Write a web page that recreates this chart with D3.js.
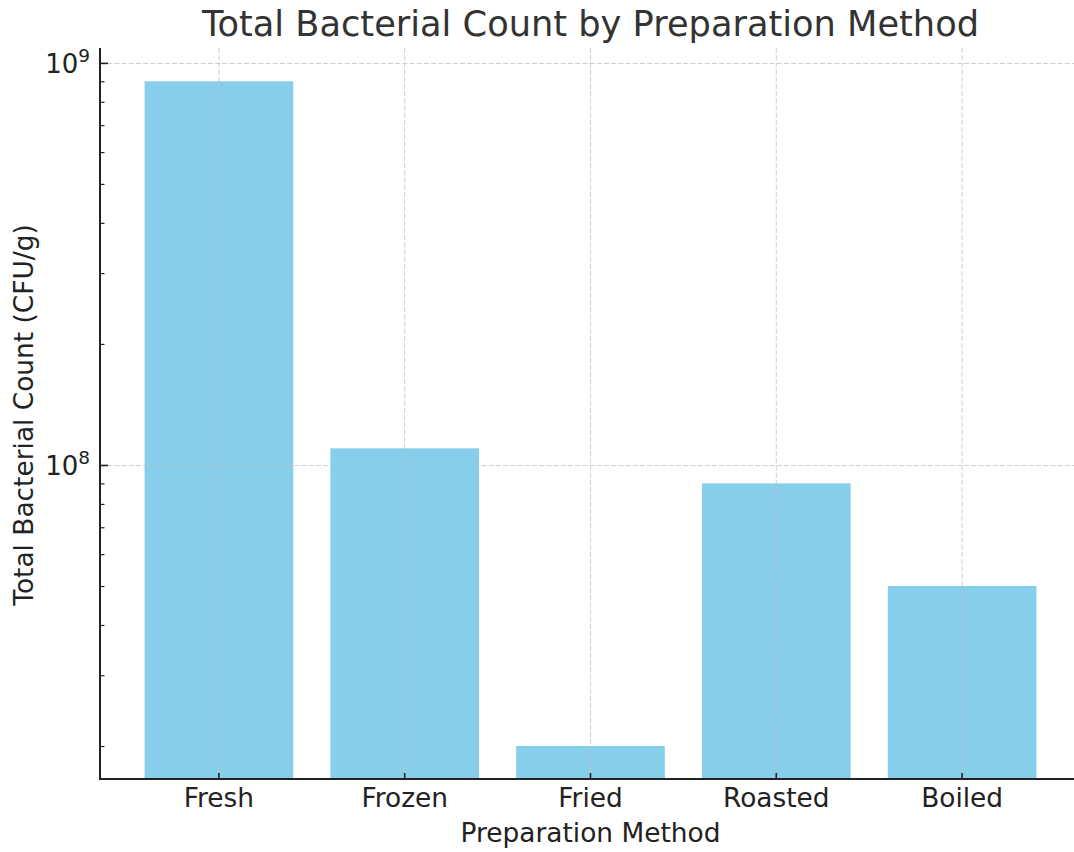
<!DOCTYPE html>
<html>
<head>
<meta charset="utf-8">
<script src="https://cdn.jsdelivr.net/npm/d3@7"></script>
<style>
  html, body { margin: 0; padding: 0; background: #fff; }
  svg { display: block; font-family: "DejaVu Sans", sans-serif; }
</style>
</head>
<body>
<svg id="chart" width="1074" height="852"></svg>
<script>
const categories = ["Fresh", "Frozen", "Fried", "Roasted", "Boiled"];
const counts = [9e8, 1.1e8, 2e7, 9e7, 5e7];
const majorTicks = [1e8, 1e9];
const majorTickLabels = ["8", "9"];
const title = "Total Bacterial Count by Preparation Method";
const xLabel = "Preparation Method";
const yLabel = "Total Bacterial Count (CFU/g)";

(function () {
const svg = d3.select("#chart");
const pLeft = 100, pRight = 1081, pTop = 48, pBottom = 779;

const x = d3.scaleBand().domain(categories).range([pLeft, pRight])
  .paddingInner(0.2).paddingOuter(0.24);
const y = d3.scaleLog().domain([Math.pow(10, 7.219), Math.pow(10, 9.037)]).range([pBottom, pTop]);

const minorTicks = [];
for (let e = 7; e <= 9; e++) {
  for (let m = 2; m <= 9; m++) {
    const v = m * Math.pow(10, e);
    if (v >= y.domain()[0] && v <= y.domain()[1]) minorTicks.push(v);
  }
}

// grid
const grid = svg.append("g").attr("stroke", "#cfcfcf").attr("stroke-width", 1)
  .attr("stroke-dasharray", "5,2.2");
grid.selectAll("line.h").data(majorTicks).join("line").attr("class", "h")
  .attr("x1", pLeft).attr("x2", pRight)
  .attr("y1", d => Math.round(y(d)) + 0.5).attr("y2", d => Math.round(y(d)) + 0.5);
grid.selectAll("line.v").data(categories).join("line").attr("class", "v")
  .attr("x1", d => x(d) + x.bandwidth() / 2).attr("x2", d => x(d) + x.bandwidth() / 2)
  .attr("y1", pTop).attr("y2", pBottom);

// bars
svg.append("g").selectAll("rect").data(categories).join("rect")
  .attr("x", d => x(d))
  .attr("width", x.bandwidth())
  .attr("y", (d, i) => y(counts[i]))
  .attr("height", (d, i) => pBottom - y(counts[i]))
  .attr("fill", "#87CEEB");

// grid drawn over bars
const grid2 = svg.append("g").attr("stroke", "#b0c4d0").attr("stroke-width", 1)
  .attr("stroke-dasharray", "5,2.2");
grid2.selectAll("line").data(categories).join("line")
  .attr("x1", d => x(d) + x.bandwidth() / 2).attr("x2", d => x(d) + x.bandwidth() / 2)
  .attr("y1", (d, i) => y(counts[i])).attr("y2", pBottom);
grid2.selectAll("line.h").data(majorTicks).join("line").attr("class", "h")
  .attr("x1", d => {
    const i = counts.findIndex(c => c >= d);
    return i >= 0 ? x(categories[i]) : 0;
  })
  .attr("x2", d => {
    const i = counts.findIndex(c => c >= d);
    return i >= 0 ? x(categories[i]) + x.bandwidth() : 0;
  })
  .attr("y1", d => Math.round(y(d)) + 0.5).attr("y2", d => Math.round(y(d)) + 0.5);

// y axis
const yAxis = d3.axisLeft(y).tickValues(majorTicks).tickSize(-8).tickFormat("");
const yg = svg.append("g").attr("transform", `translate(${pLeft},0)`).call(yAxis);
yg.select(".domain").remove();
yg.selectAll(".tick line").attr("stroke", "#222").attr("stroke-width", 1.6);
const yMinor = d3.axisLeft(y).tickValues(minorTicks).tickSize(-4.5).tickFormat("");
const ymg = svg.append("g").attr("transform", `translate(${pLeft},0)`).call(yMinor);
ymg.select(".domain").remove();
ymg.selectAll(".tick line").attr("stroke", "#222").attr("stroke-width", 1.2);

const lbl = svg.append("g").selectAll("text").data(majorTicks).join("text")
  .attr("x", pLeft - 10).attr("y", d => y(d) + 10)
  .attr("text-anchor", "end").attr("fill", "#222").attr("font-size", 26);
lbl.append("tspan").text("10");
lbl.append("tspan").attr("dy", -11).attr("font-size", 18.5).text((d, i) => majorTickLabels[i]);

// x axis
const xAxis = d3.axisBottom(x).tickSize(-6).tickPadding(9);
const xg = svg.append("g").attr("transform", `translate(0,${pBottom})`).call(xAxis);
xg.select(".domain").remove();
xg.selectAll(".tick line").attr("stroke", "#222").attr("stroke-width", 1.6);
xg.selectAll(".tick text").attr("font-size", 26.4).attr("fill", "#222")
  .attr("font-family", "DejaVu Sans, sans-serif");

// spines
svg.append("line").attr("x1", pLeft).attr("x2", pLeft).attr("y1", pTop).attr("y2", pBottom + 1)
  .attr("stroke", "#222").attr("stroke-width", 2);
svg.append("line").attr("x1", pLeft - 1).attr("x2", pRight).attr("y1", pBottom).attr("y2", pBottom)
  .attr("stroke", "#222").attr("stroke-width", 2);

// labels
svg.append("text").attr("x", (pLeft + pRight) / 2).attr("y", 36)
  .attr("text-anchor", "middle").attr("font-size", 35.2).attr("fill", "#333").text(title);
svg.append("text").attr("x", (pLeft + pRight) / 2).attr("y", 842)
  .attr("text-anchor", "middle").attr("font-size", 26.4).attr("fill", "#222").text(xLabel);
svg.append("text").attr("transform", `translate(33,${(pTop + pBottom) / 2 + 1.5}) rotate(-90)`)
  .attr("text-anchor", "middle").attr("font-size", 26.4).attr("fill", "#222").text(yLabel);
})();
</script>
</body>
</html>
